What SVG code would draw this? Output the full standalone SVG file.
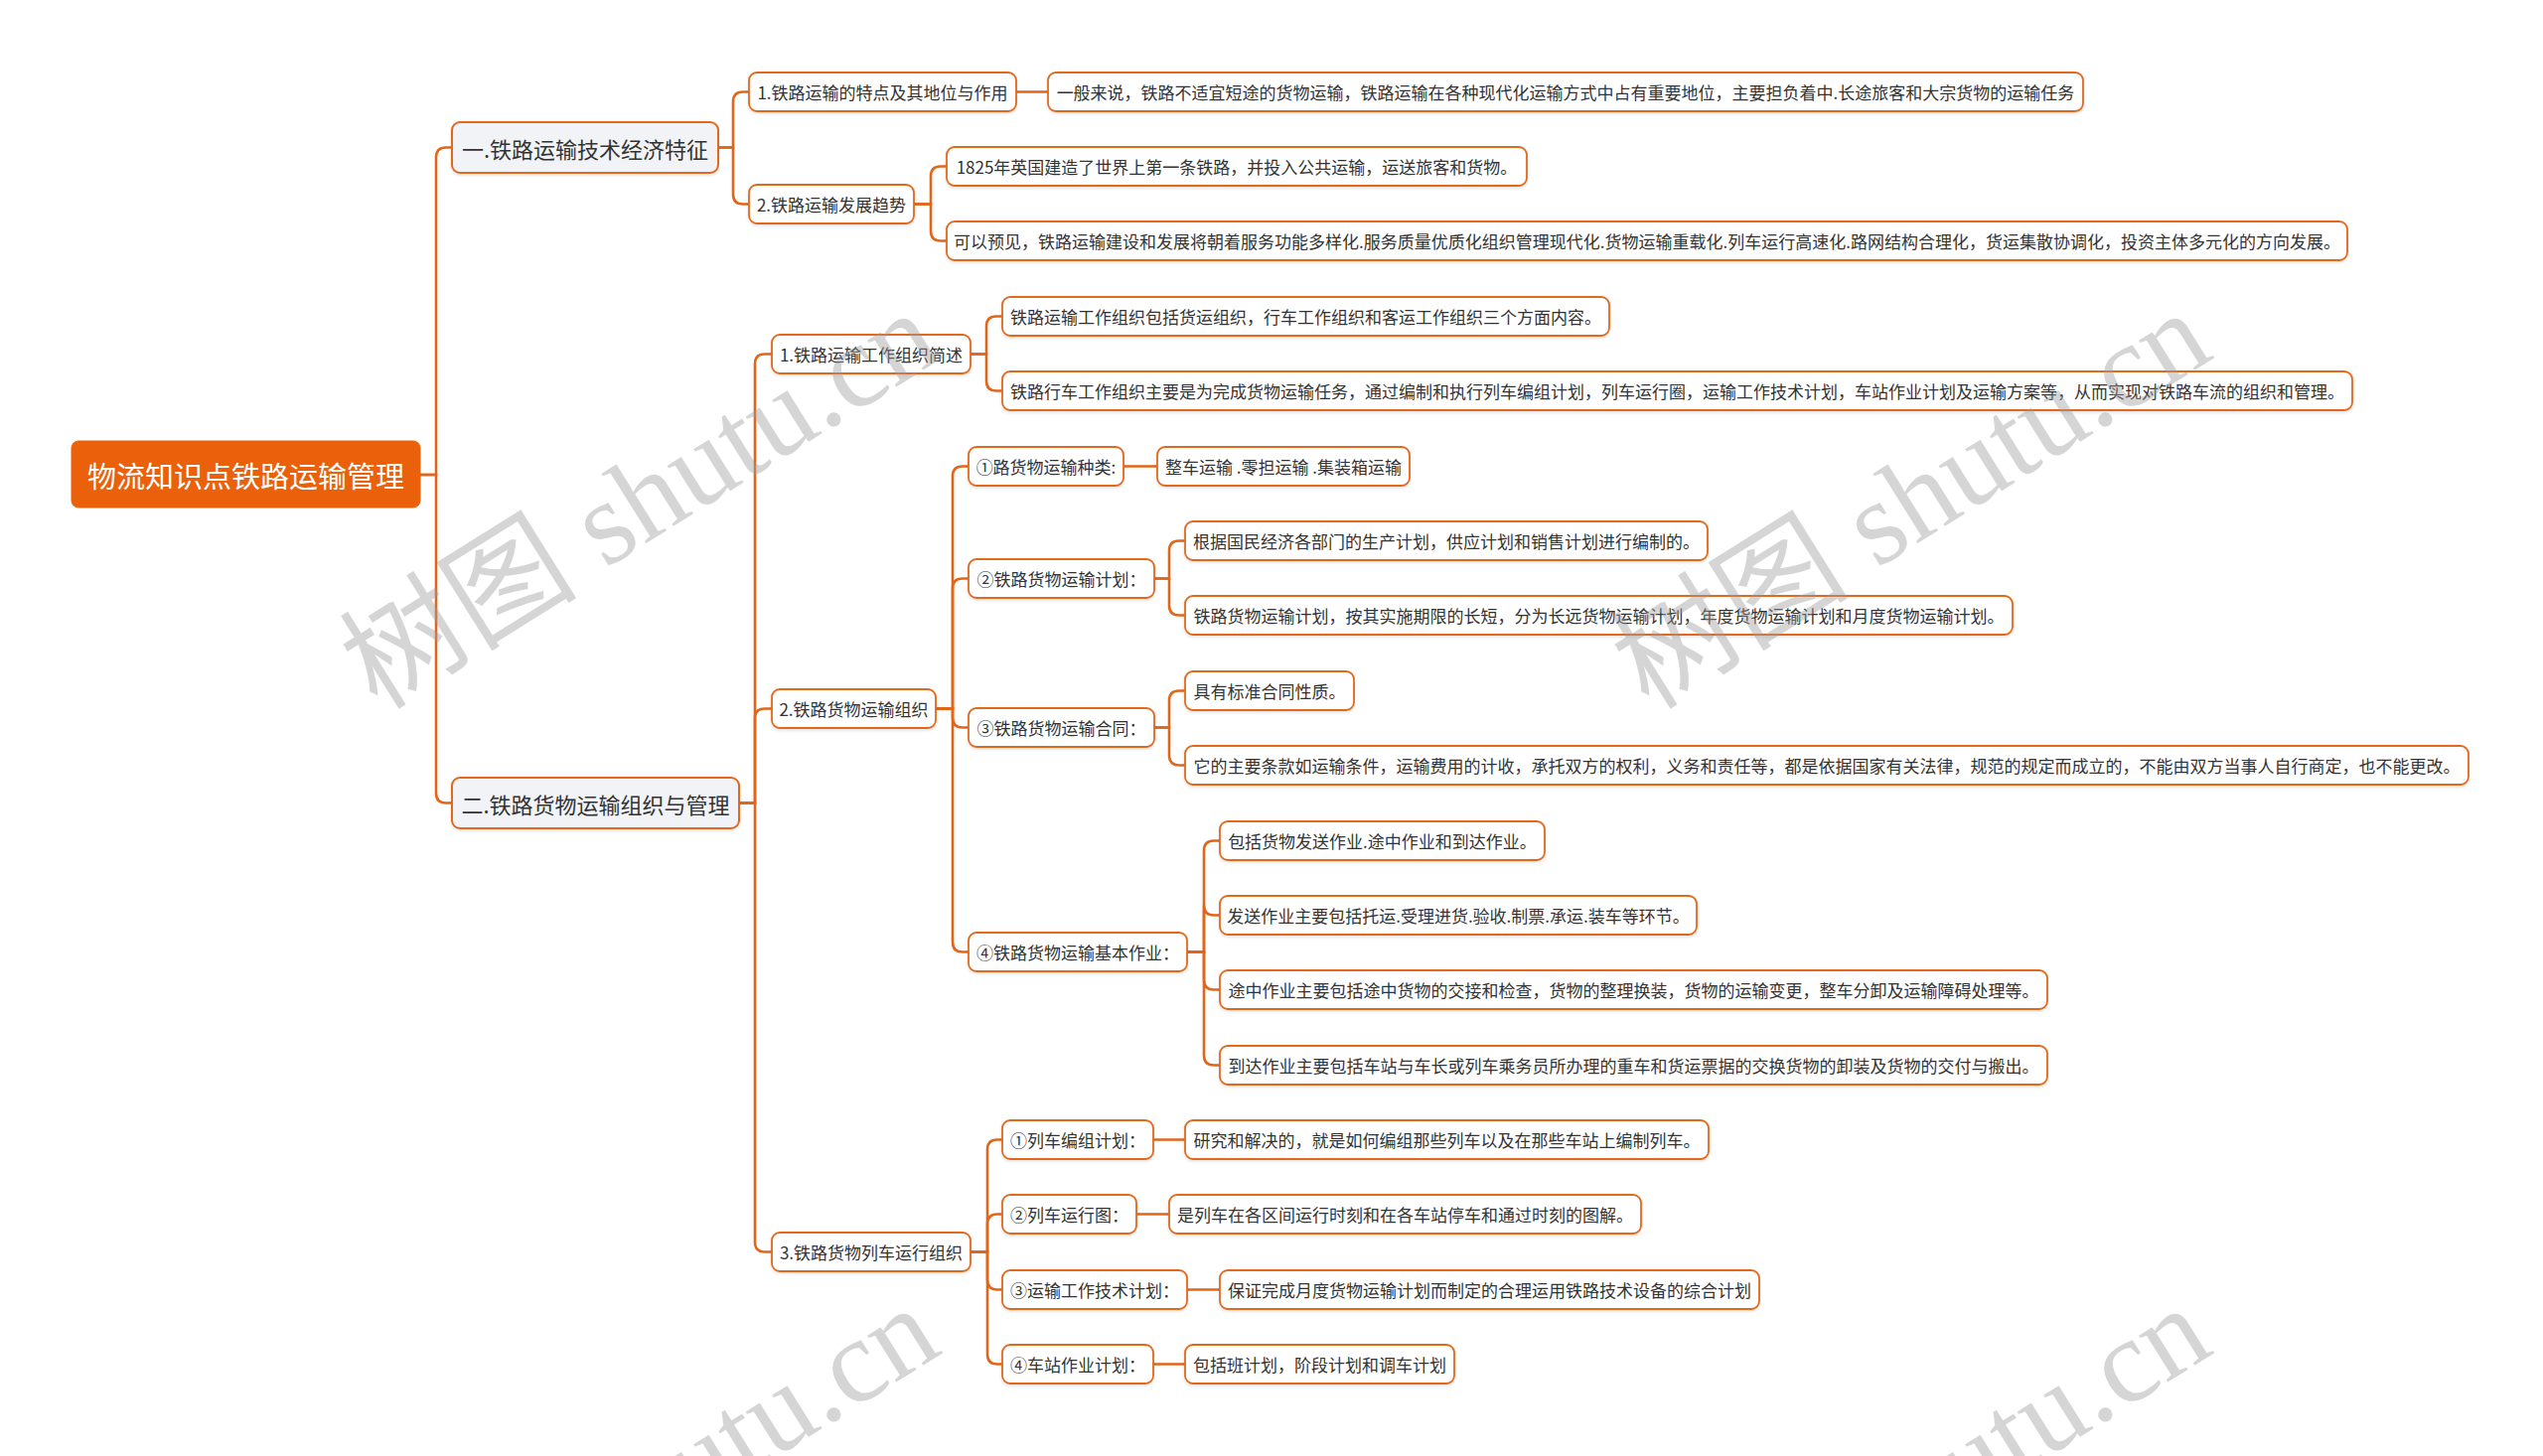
<svg xmlns="http://www.w3.org/2000/svg" width="2560" height="1466" viewBox="0 0 2560 1466">
<style>
.bg{fill:#ffffff}
.conn path{fill:none;stroke:#E2661A;stroke-width:2.6;stroke-linecap:round}
.root rect{fill:#EA600B;stroke:#EA600B;stroke-width:1}
.root text{fill:#ffffff;font-size:29px}
.l1 rect{fill:#F1F3F6;stroke:#E2691E;stroke-width:2}
.l1 text{fill:#333333;font-size:22px}
.n rect{fill:#ffffff;stroke:#E2691E;stroke-width:1.8}
.n text{fill:#333333;font-size:17px}
text{font-family:"Noto Sans CJK SC","Microsoft YaHei",sans-serif;text-anchor:middle;dominant-baseline:central}
.wm text{font-family:"Liberation Serif","Noto Sans CJK SC",serif;font-size:120px;fill:#9a9a9a;fill-opacity:0.42;text-anchor:start;dominant-baseline:alphabetic}
</style>
<defs>
<filter id="sh" x="-5%" y="-20%" width="110%" height="150%">
<feDropShadow dx="0" dy="1.5" stdDeviation="1.5" flood-color="#000" flood-opacity="0.12"/>
</filter>
</defs>
<rect class="bg" x="0" y="0" width="2560" height="1466"/>
<g id="connectors" class="conn">
<path d="M423 478 H439 V158.5 Q439 148.5 449 148.5 H455"/>
<path d="M423 478 H439 V798.5 Q439 808.5 449 808.5 H455"/>
<path d="M723 148.5 H738 V102.5 Q738 92.5 748 92.5 H754"/>
<path d="M723 148.5 H738 V195.5 Q738 205.5 748 205.5 H754"/>
<path d="M1023 92.5 H1055"/>
<path d="M920 205.5 H937 V177.5 Q937 167.5 947 167.5 H953"/>
<path d="M920 205.5 H937 V232.5 Q937 242.5 947 242.5 H953"/>
<path d="M744 808.5 H760 V366.5 Q760 356.5 770 356.5 H777"/>
<path d="M744 808.5 H760 V723.5 Q760 713.5 770 713.5 H777"/>
<path d="M744 808.5 H760 V1250.5 Q760 1260.5 770 1260.5 H777"/>
<path d="M977 356.5 H993 V328.5 Q993 318.5 1003 318.5 H1009"/>
<path d="M977 356.5 H993 V383.5 Q993 393.5 1003 393.5 H1009"/>
<path d="M942 713.5 H959 V479.5 Q959 469.5 969 469.5 H975"/>
<path d="M942 713.5 H959 V592.5 Q959 582.5 969 582.5 H975"/>
<path d="M942 713.5 H959 V722.5 Q959 732.5 969 732.5 H975"/>
<path d="M942 713.5 H959 V948.5 Q959 958.5 969 958.5 H975"/>
<path d="M1131 469.5 H1165"/>
<path d="M1162 582.5 H1177 V554.5 Q1177 544.5 1187 544.5 H1193"/>
<path d="M1162 582.5 H1177 V609.5 Q1177 619.5 1187 619.5 H1193"/>
<path d="M1162 732.5 H1177 V705.5 Q1177 695.5 1187 695.5 H1193"/>
<path d="M1162 732.5 H1177 V760.5 Q1177 770.5 1187 770.5 H1193"/>
<path d="M1195 958.5 H1212 V856.5 Q1212 846.5 1222 846.5 H1228"/>
<path d="M1195 958.5 H1212 V911.5 Q1212 921.5 1222 921.5 H1228"/>
<path d="M1195 958.5 H1212 V986.5 Q1212 996.5 1222 996.5 H1228"/>
<path d="M1195 958.5 H1212 V1062.5 Q1212 1072.5 1222 1072.5 H1228"/>
<path d="M977 1260.5 H994 V1157.5 Q994 1147.5 1004 1147.5 H1009"/>
<path d="M977 1260.5 H994 V1232.5 Q994 1222.5 1004 1222.5 H1009"/>
<path d="M977 1260.5 H994 V1288.5 Q994 1298.5 1004 1298.5 H1009"/>
<path d="M977 1260.5 H994 V1363.5 Q994 1373.5 1004 1373.5 H1009"/>
<path d="M1161 1147.5 H1193"/>
<path d="M1144 1222.5 H1177"/>
<path d="M1195 1298.5 H1228"/>
<path d="M1161 1373.5 H1193"/>
</g>
<g id="root" class="root"><rect x="72" y="444" width="351" height="67" rx="7"/><text x="247.5" y="478">物流知识点铁路运输管理</text></g>
<g id="n-a" class="l1"><rect x="455" y="123" width="268" height="51" rx="8" filter="url(#sh)"/><text x="589" y="148.5">一.铁路运输技术经济特征</text></g>
<g id="n-b" class="l1"><rect x="455" y="783" width="289" height="51" rx="8" filter="url(#sh)"/><text x="599.5" y="808.5">二.铁路货物运输组织与管理</text></g>
<g id="n-a1" class="n"><rect x="754" y="73" width="269" height="39" rx="8" filter="url(#sh)"/><text x="888.5" y="92.5">1.铁路运输的特点及其地位与作用</text></g>
<g id="n-a1a" class="n"><rect x="1055" y="73" width="1042" height="39" rx="8" filter="url(#sh)"/><text x="1576" y="92.5">一般来说，铁路不适宜短途的货物运输，铁路运输在各种现代化运输方式中占有重要地位，主要担负着中.长途旅客和大宗货物的运输任务</text></g>
<g id="n-a2" class="n"><rect x="754" y="186" width="166" height="39" rx="8" filter="url(#sh)"/><text x="837" y="205.5">2.铁路运输发展趋势</text></g>
<g id="n-a2a" class="n"><rect x="953" y="148" width="584" height="39" rx="8" filter="url(#sh)"/><text x="1245" y="167.5">1825年英国建造了世界上第一条铁路，并投入公共运输，运送旅客和货物。</text></g>
<g id="n-a2b" class="n"><rect x="953" y="223" width="1410" height="39" rx="8" filter="url(#sh)"/><text x="1658" y="242.5">可以预见，铁路运输建设和发展将朝着服务功能多样化.服务质量优质化组织管理现代化.货物运输重载化.列车运行高速化.路网结构合理化，货运集散协调化，投资主体多元化的方向发展。</text></g>
<g id="n-b1" class="n"><rect x="777" y="337" width="200" height="39" rx="8" filter="url(#sh)"/><text x="877" y="356.5">1.铁路运输工作组织简述</text></g>
<g id="n-b1a" class="n"><rect x="1009" y="299" width="611" height="39" rx="8" filter="url(#sh)"/><text x="1314.5" y="318.5">铁路运输工作组织包括货运组织，行车工作组织和客运工作组织三个方面内容。</text></g>
<g id="n-b1b" class="n"><rect x="1009" y="374" width="1359" height="39" rx="8" filter="url(#sh)"/><text x="1688.5" y="393.5">铁路行车工作组织主要是为完成货物运输任务，通过编制和执行列车编组计划，列车运行圈，运输工作技术计划，车站作业计划及运输方案等，从而实现对铁路车流的组织和管理。</text></g>
<g id="n-b2" class="n"><rect x="777" y="694" width="165" height="39" rx="8" filter="url(#sh)"/><text x="859.5" y="713.5">2.铁路货物运输组织</text></g>
<g id="n-c1" class="n"><rect x="975" y="450" width="156" height="39" rx="8" filter="url(#sh)"/><text x="1053" y="469.5">①路货物运输种类:</text></g>
<g id="n-c1a" class="n"><rect x="1165" y="450" width="254" height="39" rx="8" filter="url(#sh)"/><text x="1292" y="469.5">整车运输 .零担运输 .集装箱运输</text></g>
<g id="n-c2" class="n"><rect x="975" y="563" width="187" height="39" rx="8" filter="url(#sh)"/><text x="1068.5" y="582.5">②铁路货物运输计划：</text></g>
<g id="n-c2a" class="n"><rect x="1193" y="525" width="526" height="39" rx="8" filter="url(#sh)"/><text x="1456" y="544.5">根据国民经济各部门的生产计划，供应计划和销售计划进行编制的。</text></g>
<g id="n-c2b" class="n"><rect x="1193" y="600" width="833" height="39" rx="8" filter="url(#sh)"/><text x="1609.5" y="619.5">铁路货物运输计划，按其实施期限的长短，分为长远货物运输计划，年度货物运输计划和月度货物运输计划。</text></g>
<g id="n-c3" class="n"><rect x="975" y="713" width="187" height="39" rx="8" filter="url(#sh)"/><text x="1068.5" y="732.5">③铁路货物运输合同：</text></g>
<g id="n-c3a" class="n"><rect x="1193" y="676" width="170" height="39" rx="8" filter="url(#sh)"/><text x="1278" y="695.5">具有标准合同性质。</text></g>
<g id="n-c3b" class="n"><rect x="1193" y="751" width="1292" height="39" rx="8" filter="url(#sh)"/><text x="1839" y="770.5">它的主要条款如运输条件，运输费用的计收，承托双方的权利，义务和责任等，都是依据国家有关法律，规范的规定而成立的，不能由双方当事人自行商定，也不能更改。</text></g>
<g id="n-c4" class="n"><rect x="975" y="939" width="220" height="39" rx="8" filter="url(#sh)"/><text x="1085" y="958.5">④铁路货物运输基本作业：</text></g>
<g id="n-c4a" class="n"><rect x="1228" y="827" width="327" height="39" rx="8" filter="url(#sh)"/><text x="1391.5" y="846.5">包括货物发送作业.途中作业和到达作业。</text></g>
<g id="n-c4b" class="n"><rect x="1228" y="902" width="480" height="39" rx="8" filter="url(#sh)"/><text x="1468" y="921.5">发送作业主要包括托运.受理进货.验收.制票.承运.装车等环节。</text></g>
<g id="n-c4c" class="n"><rect x="1228" y="977" width="833" height="39" rx="8" filter="url(#sh)"/><text x="1644.5" y="996.5">途中作业主要包括途中货物的交接和检查，货物的整理换装，货物的运输变更，整车分卸及运输障碍处理等。</text></g>
<g id="n-c4d" class="n"><rect x="1228" y="1053" width="833" height="39" rx="8" filter="url(#sh)"/><text x="1644.5" y="1072.5">到达作业主要包括车站与车长或列车乘务员所办理的重车和货运票据的交换货物的卸装及货物的交付与搬出。</text></g>
<g id="n-b3" class="n"><rect x="777" y="1241" width="200" height="39" rx="8" filter="url(#sh)"/><text x="877" y="1260.5">3.铁路货物列车运行组织</text></g>
<g id="n-d1" class="n"><rect x="1009" y="1128" width="152" height="39" rx="8" filter="url(#sh)"/><text x="1085" y="1147.5">①列车编组计划：</text></g>
<g id="n-d1a" class="n"><rect x="1193" y="1128" width="527" height="39" rx="8" filter="url(#sh)"/><text x="1456.5" y="1147.5">研究和解决的，就是如何编组那些列车以及在那些车站上编制列车。</text></g>
<g id="n-d2" class="n"><rect x="1009" y="1203" width="135" height="39" rx="8" filter="url(#sh)"/><text x="1076.5" y="1222.5">②列车运行图：</text></g>
<g id="n-d2a" class="n"><rect x="1177" y="1203" width="475" height="39" rx="8" filter="url(#sh)"/><text x="1414.5" y="1222.5">是列车在各区间运行时刻和在各车站停车和通过时刻的图解。</text></g>
<g id="n-d3" class="n"><rect x="1009" y="1279" width="186" height="39" rx="8" filter="url(#sh)"/><text x="1102" y="1298.5">③运输工作技术计划：</text></g>
<g id="n-d3a" class="n"><rect x="1228" y="1279" width="543" height="39" rx="8" filter="url(#sh)"/><text x="1499.5" y="1298.5">保证完成月度货物运输计划而制定的合理运用铁路技术设备的综合计划</text></g>
<g id="n-d4" class="n"><rect x="1009" y="1354" width="152" height="39" rx="8" filter="url(#sh)"/><text x="1085" y="1373.5">④车站作业计划：</text></g>
<g id="n-d4a" class="n"><rect x="1193" y="1354" width="271" height="39" rx="8" filter="url(#sh)"/><text x="1328.5" y="1373.5">包括班计划，阶段计划和调车计划</text></g>
<g id="watermarks" class="wm">
<text transform="translate(380 716) rotate(-32)">树图 shutu.cn</text>
<text transform="translate(1660 716) rotate(-32)">树图 shutu.cn</text>
<text transform="translate(380 1718) rotate(-32)">树图 shutu.cn</text>
<text transform="translate(1660 1718) rotate(-32)">树图 shutu.cn</text>
</g>
</svg>
